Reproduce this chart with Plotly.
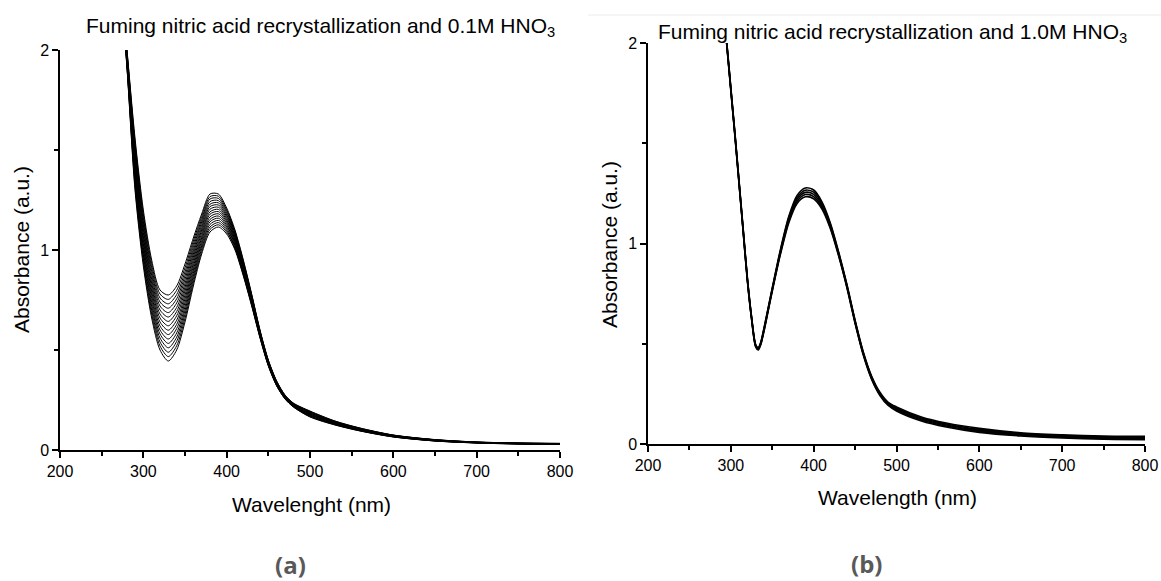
import plotly.graph_objects as go

FIG_W, FIG_H = 1161, 581

# ---------------- panel (a) : 0.1M HNO3 ----------------
wavelength_a = [270, 280, 290, 300, 310, 320, 330, 340, 350, 360, 370, 380, 390, 400, 410,
                420, 430, 440, 450, 460, 470, 480, 500, 530, 560, 600, 650, 700, 750, 800]

absorbance_a = [
    [2.450, 1.930, 1.300, 0.920, 0.660, 0.500, 0.445, 0.500, 0.640, 0.820, 0.980, 1.090, 1.115, 1.080, 1.000, 0.870, 0.720, 0.560, 0.420, 0.320, 0.255, 0.215, 0.165, 0.125, 0.095, 0.065, 0.045, 0.035, 0.030, 0.028],
    [2.453, 1.936, 1.317, 0.939, 0.679, 0.520, 0.467, 0.521, 0.659, 0.836, 0.993, 1.103, 1.126, 1.089, 1.007, 0.875, 0.724, 0.563, 0.422, 0.322, 0.256, 0.216, 0.167, 0.126, 0.096, 0.066, 0.045, 0.035, 0.030, 0.028],
    [2.457, 1.942, 1.335, 0.957, 0.699, 0.540, 0.489, 0.543, 0.679, 0.852, 1.007, 1.115, 1.137, 1.097, 1.013, 0.881, 0.728, 0.565, 0.424, 0.323, 0.258, 0.218, 0.169, 0.128, 0.097, 0.066, 0.046, 0.036, 0.031, 0.029],
    [2.460, 1.948, 1.352, 0.976, 0.718, 0.560, 0.511, 0.564, 0.698, 0.868, 1.020, 1.128, 1.148, 1.106, 1.020, 0.886, 0.732, 0.568, 0.426, 0.325, 0.259, 0.219, 0.171, 0.129, 0.098, 0.067, 0.046, 0.036, 0.031, 0.029],
    [2.463, 1.954, 1.369, 0.995, 0.737, 0.580, 0.533, 0.585, 0.717, 0.884, 1.033, 1.141, 1.159, 1.115, 1.027, 0.891, 0.736, 0.571, 0.428, 0.327, 0.260, 0.220, 0.173, 0.130, 0.099, 0.068, 0.047, 0.036, 0.031, 0.029],
    [2.467, 1.960, 1.387, 1.013, 0.757, 0.600, 0.555, 0.607, 0.737, 0.900, 1.047, 1.153, 1.170, 1.123, 1.033, 0.897, 0.740, 0.573, 0.430, 0.328, 0.262, 0.222, 0.175, 0.132, 0.100, 0.068, 0.047, 0.037, 0.032, 0.030],
    [2.470, 1.966, 1.404, 1.032, 0.776, 0.620, 0.577, 0.628, 0.756, 0.916, 1.060, 1.166, 1.181, 1.132, 1.040, 0.902, 0.744, 0.576, 0.432, 0.330, 0.263, 0.223, 0.177, 0.133, 0.101, 0.069, 0.048, 0.037, 0.032, 0.030],
    [2.473, 1.972, 1.421, 1.051, 0.795, 0.640, 0.599, 0.649, 0.775, 0.932, 1.073, 1.179, 1.192, 1.141, 1.047, 0.907, 0.748, 0.579, 0.434, 0.332, 0.264, 0.224, 0.179, 0.134, 0.102, 0.070, 0.048, 0.037, 0.032, 0.030],
    [2.477, 1.978, 1.439, 1.069, 0.815, 0.660, 0.621, 0.671, 0.795, 0.948, 1.087, 1.191, 1.203, 1.149, 1.053, 0.913, 0.752, 0.581, 0.436, 0.333, 0.266, 0.226, 0.181, 0.136, 0.103, 0.070, 0.049, 0.038, 0.033, 0.031],
    [2.480, 1.984, 1.456, 1.088, 0.834, 0.680, 0.643, 0.692, 0.814, 0.964, 1.100, 1.204, 1.214, 1.158, 1.060, 0.918, 0.756, 0.584, 0.438, 0.335, 0.267, 0.227, 0.183, 0.137, 0.104, 0.071, 0.049, 0.038, 0.033, 0.031],
    [2.483, 1.990, 1.473, 1.107, 0.853, 0.700, 0.665, 0.713, 0.833, 0.980, 1.113, 1.217, 1.225, 1.167, 1.067, 0.923, 0.760, 0.587, 0.440, 0.337, 0.268, 0.228, 0.185, 0.138, 0.105, 0.072, 0.050, 0.038, 0.033, 0.031],
    [2.487, 1.996, 1.491, 1.125, 0.873, 0.720, 0.687, 0.735, 0.853, 0.996, 1.127, 1.229, 1.236, 1.175, 1.073, 0.929, 0.764, 0.589, 0.442, 0.338, 0.270, 0.230, 0.187, 0.140, 0.106, 0.072, 0.050, 0.039, 0.034, 0.032],
    [2.490, 2.002, 1.508, 1.144, 0.892, 0.740, 0.709, 0.756, 0.872, 1.012, 1.140, 1.242, 1.247, 1.184, 1.080, 0.934, 0.768, 0.592, 0.444, 0.340, 0.271, 0.231, 0.189, 0.141, 0.107, 0.073, 0.051, 0.039, 0.034, 0.032],
    [2.493, 2.008, 1.525, 1.163, 0.911, 0.760, 0.731, 0.777, 0.891, 1.028, 1.153, 1.255, 1.258, 1.193, 1.087, 0.939, 0.772, 0.595, 0.446, 0.342, 0.272, 0.232, 0.191, 0.142, 0.108, 0.074, 0.051, 0.039, 0.034, 0.032],
    [2.497, 2.014, 1.543, 1.181, 0.931, 0.780, 0.753, 0.799, 0.911, 1.044, 1.167, 1.267, 1.269, 1.201, 1.093, 0.945, 0.776, 0.597, 0.448, 0.343, 0.274, 0.234, 0.193, 0.144, 0.109, 0.074, 0.052, 0.040, 0.035, 0.033],
    [2.500, 2.020, 1.560, 1.200, 0.950, 0.800, 0.775, 0.820, 0.930, 1.060, 1.180, 1.280, 1.280, 1.210, 1.100, 0.950, 0.780, 0.600, 0.450, 0.345, 0.275, 0.235, 0.195, 0.145, 0.110, 0.075, 0.052, 0.040, 0.035, 0.033],
]

# ---------------- panel (b) : 1.0M HNO3 ----------------
wavelength_b = [290, 295, 300, 305, 310, 315, 320, 325, 330, 333, 336, 340, 345, 350, 360, 370, 380, 390,
                400, 410, 420, 430, 440, 450, 460, 470, 480, 490, 500, 530, 560, 600, 650, 700, 750, 800]

absorbance_b = [
    [2.212, 1.992, 1.762, 1.532, 1.292, 1.052, 0.812, 0.624, 0.484, 0.469, 0.494, 0.562, 0.662, 0.762, 0.948, 1.104, 1.200, 1.233, 1.223, 1.172, 1.076, 0.940, 0.782, 0.602, 0.442, 0.322, 0.242, 0.192, 0.165, 0.115, 0.085, 0.058, 0.040, 0.030, 0.024, 0.022],
    [2.216, 1.996, 1.766, 1.536, 1.296, 1.056, 0.816, 0.627, 0.487, 0.472, 0.497, 0.566, 0.666, 0.766, 0.954, 1.112, 1.210, 1.244, 1.234, 1.181, 1.083, 0.945, 0.786, 0.606, 0.446, 0.326, 0.246, 0.196, 0.170, 0.120, 0.090, 0.063, 0.044, 0.034, 0.028, 0.026],
    [2.220, 2.000, 1.770, 1.540, 1.300, 1.060, 0.820, 0.630, 0.490, 0.475, 0.500, 0.570, 0.670, 0.770, 0.960, 1.120, 1.220, 1.255, 1.245, 1.190, 1.090, 0.950, 0.790, 0.610, 0.450, 0.330, 0.250, 0.200, 0.175, 0.125, 0.095, 0.068, 0.048, 0.038, 0.032, 0.030],
    [2.224, 2.004, 1.774, 1.544, 1.304, 1.064, 0.824, 0.633, 0.493, 0.478, 0.503, 0.574, 0.674, 0.774, 0.966, 1.128, 1.230, 1.266, 1.256, 1.199, 1.097, 0.955, 0.794, 0.614, 0.454, 0.334, 0.254, 0.204, 0.180, 0.130, 0.100, 0.073, 0.052, 0.042, 0.036, 0.034],
    [2.228, 2.008, 1.778, 1.548, 1.308, 1.068, 0.828, 0.636, 0.496, 0.481, 0.506, 0.578, 0.678, 0.778, 0.972, 1.136, 1.240, 1.277, 1.267, 1.208, 1.104, 0.960, 0.798, 0.618, 0.458, 0.338, 0.258, 0.208, 0.185, 0.135, 0.105, 0.078, 0.056, 0.046, 0.040, 0.038],
]

x_ticks = [200, 300, 400, 500, 600, 700, 800]
y_ticks = [0, 1, 2]
title_a = "Fuming nitric acid recrystallization and 0.1M HNO<sub>3</sub>"
title_b = "Fuming nitric acid recrystallization and 1.0M HNO<sub>3</sub>"
xlabel_a = "Wavelenght (nm)"
xlabel_b = "Wavelength (nm)"
ylabel = "Absorbance (a.u.)"
panel_labels = ["(a)", "(b)"]

FONT = "Liberation Sans, Arial, sans-serif"


def fx(p):
    return p / FIG_W


def fy(p):
    return 1 - p / FIG_H


fig = go.Figure()

for spec in absorbance_a:
    fig.add_trace(go.Scatter(x=wavelength_a, y=spec, mode="lines",
                             line=dict(color="black", width=1, shape="spline", smoothing=0.8),
                             xaxis="x", yaxis="y", showlegend=False, hoverinfo="skip"))
for spec in absorbance_b:
    fig.add_trace(go.Scatter(x=wavelength_b, y=spec, mode="lines",
                             line=dict(color="black", width=1.6, shape="spline", smoothing=0.8),
                             xaxis="x2", yaxis="y2", showlegend=False, hoverinfo="skip"))


def xaxis(domain, anchor):
    return dict(domain=domain, anchor=anchor, range=[200, 800], tickvals=x_ticks,
                automargin=False,
                ticks="outside", ticklen=6, tickwidth=1.5, tickcolor="black",
                showline=True, linecolor="black", linewidth=1.5, showgrid=False, zeroline=False,
                tickfont=dict(family=FONT, size=16, color="black"),
                minor=dict(ticks="outside", ticklen=4, tickwidth=1.5, tickcolor="black",
                           tick0=250, dtick=100, showgrid=False))


def yaxis(domain, anchor):
    return dict(domain=domain, anchor=anchor, range=[0, 2], tickvals=y_ticks,
                automargin=False,
                ticks="outside", ticklen=6, tickwidth=1.5, tickcolor="black",
                showline=True, linecolor="black", linewidth=1.5, showgrid=False, zeroline=False,
                tickfont=dict(family=FONT, size=16, color="black"),
                minor=dict(ticks="outside", ticklen=4, tickwidth=1.5, tickcolor="black",
                           tick0=0.5, dtick=1, showgrid=False))


def note(text, x, y, size, angle=0, family=FONT, color="black"):
    return dict(text=text, x=fx(x), y=fy(y), xref="paper", yref="paper", showarrow=False,
                textangle=angle, font=dict(family=family, size=size, color=color),
                xanchor="center", yanchor="middle", borderpad=0)


annotations = [
    note(title_a, 321, 27, 21),
    note(title_b, 892, 33, 21),
    note(xlabel_a, 311, 504, 21),
    note(xlabel_b, 897, 497, 21),
    note(ylabel, 21, 250, 21, angle=-90),
    note(ylabel, 609, 245, 21, angle=-90),
    note("<b>" + panel_labels[0] + "</b>", 290, 564, 24, family="Open Sans, Lato, sans-serif", color="#595959"),
    note("<b>" + panel_labels[1] + "</b>", 866, 563, 24, family="Open Sans, Lato, sans-serif", color="#595959"),
]

fig.update_layout(
    template="none",
    width=FIG_W, height=FIG_H, autosize=False,
    margin=dict(l=0, r=0, t=0, b=0, pad=0),
    paper_bgcolor="white", plot_bgcolor="white",
    font=dict(family=FONT, size=16, color="black"),
    xaxis=xaxis([fx(60), fx(560)], "y"),
    yaxis=yaxis([fy(450), fy(50)], "x"),
    xaxis2=xaxis([fx(648), fx(1145)], "y2"),
    yaxis2=yaxis([fy(444), fy(43)], "x2"),
    annotations=annotations,
    shapes=[dict(type="line", xref="paper", yref="paper", x0=fx(588), x1=1, y0=fy(15), y1=fy(15),
                 line=dict(color="#ececec", width=1))],
)

fig.write_html("out.html", config={"displayModeBar": False},
               post_script="document.body.style.margin='0';")
